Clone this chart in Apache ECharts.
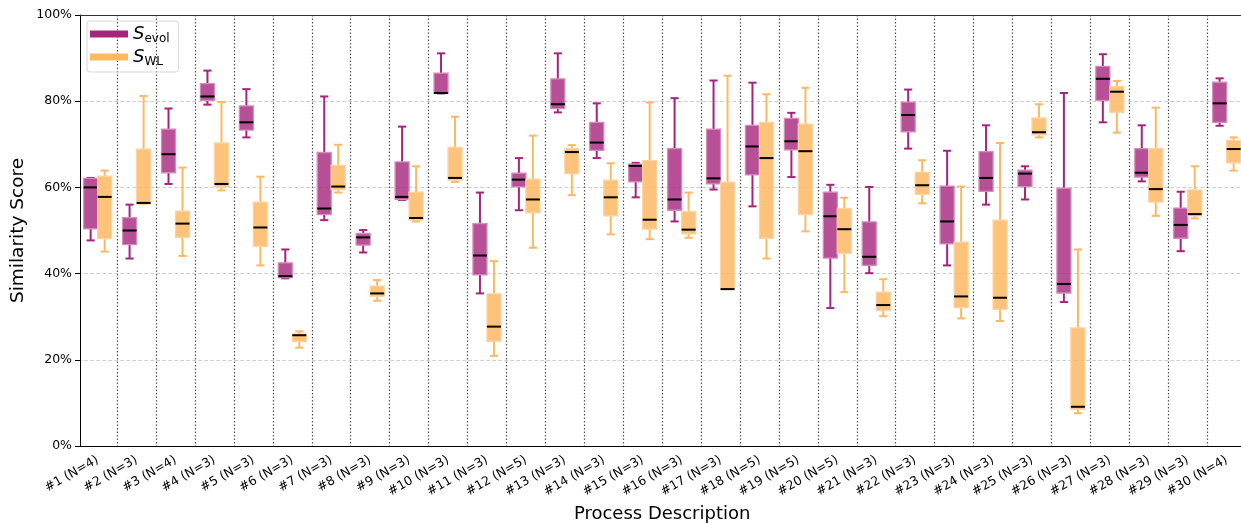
<!DOCTYPE html>
<html><head><meta charset="utf-8">
<script src="https://cdn.jsdelivr.net/npm/echarts@6/dist/echarts.min.js"></script>
<style>html,body{margin:0;padding:0;background:#fff}#c{width:1241px;height:523px}</style>
</head><body><div id="c"></div>
<script>
const categories = ['#1 (N=4)','#2 (N=3)','#3 (N=4)','#4 (N=3)','#5 (N=3)','#6 (N=3)','#7 (N=3)','#8 (N=3)','#9 (N=3)','#10 (N=3)',
  '#11 (N=3)','#12 (N=5)','#13 (N=3)','#14 (N=3)','#15 (N=3)','#16 (N=3)','#17 (N=3)','#18 (N=5)','#19 (N=5)','#20 (N=5)',
  '#21 (N=3)','#22 (N=3)','#23 (N=3)','#24 (N=3)','#25 (N=3)','#26 (N=3)','#27 (N=3)','#28 (N=3)','#29 (N=3)','#30 (N=4)'];
const yTicks = [0, 20, 40, 60, 80, 100];

// S_evol box statistics (%)
const evolLow    = [47.7,43.5,60.8,79.2,71.6,38.9,52.4,44.9,57.1,81.8,35.4,54.7,77.4,66.8,57.7,52.1,59.5,55.6,62.4,32.0,40.1,69.0,41.9,56.0,57.2,33.4,75.1,61.4,45.2,74.3];
const evolQ1     = [50.4,46.7,63.4,80.2,73.3,39.1,53.7,46.6,57.2,81.8,39.7,60.1,78.3,68.6,61.3,54.7,60.8,62.9,68.7,43.6,41.9,72.9,46.9,59.1,60.2,35.5,80.2,62.4,48.2,75.1];
const evolMedian = [60.0,50.0,67.7,81.1,75.1,39.4,55.1,48.4,57.8,81.9,44.2,61.8,79.3,70.4,65.0,57.2,62.1,69.5,70.7,53.3,43.9,76.8,52.1,62.2,63.2,37.6,85.2,63.4,51.3,79.5];
const evolQ3     = [62.1,53.0,73.5,84.1,78.9,42.5,68.1,49.3,65.9,86.5,51.6,63.3,85.2,75.1,65.4,69.0,73.5,74.4,76.0,58.9,52.0,79.8,60.3,68.3,64.0,59.8,88.1,69.0,55.2,84.4];
const evolHigh   = [62.2,56.0,78.3,87.1,82.8,45.6,81.1,50.1,74.1,91.1,58.8,66.8,91.1,79.5,65.7,80.7,84.8,84.3,77.3,60.6,60.1,82.7,68.5,74.4,64.9,81.9,90.9,74.4,59.0,85.3];

// S_WL box statistics (%)
const wlLow      = [45.1,56.2,44.1,59.3,41.9,22.8,58.8,33.7,52.1,61.3,20.9,46.0,58.2,49.1,48.0,48.3,36.4,43.5,49.8,35.7,30.1,56.3,29.6,29.0,71.6,7.6,72.7,53.4,52.8,63.9];
const wlQ1       = [48.1,56.2,48.4,60.2,46.3,24.2,59.5,34.7,52.4,61.7,24.3,54.1,63.2,53.4,50.3,49.2,36.4,48.2,53.7,44.7,31.4,58.4,32.1,31.7,72.2,8.5,77.4,56.6,53.4,65.7];
const wlMedian   = [57.8,56.4,51.6,60.8,50.7,25.7,60.2,35.4,52.9,62.2,27.7,57.2,68.2,57.7,52.5,50.2,36.4,66.8,68.4,50.3,32.7,60.5,34.7,34.4,72.8,9.1,82.2,59.6,53.8,68.9];
const wlQ3       = [62.6,68.9,54.5,70.3,56.6,26.0,65.1,37.1,58.9,69.3,35.3,61.9,69.0,61.7,66.2,54.4,61.2,75.1,74.7,55.1,35.7,63.5,47.3,52.4,76.1,27.4,83.4,69.0,59.4,70.9];
const wlHigh     = [63.9,81.2,64.6,79.8,62.5,26.6,69.9,38.5,64.9,76.4,42.9,72.0,69.8,65.6,79.7,58.8,85.9,81.6,83.1,57.6,38.7,66.3,60.2,70.3,79.3,45.6,84.7,78.5,64.9,71.6];

const FONT = 'DejaVu Sans';
const PURPLE = '#a6247e', PURPLE_FILL = 'rgba(166,36,126,0.8)', PURPLE_EDGE = '#d48cbb';
const ORANGE = '#fdb863', ORANGE_FILL = 'rgba(253,184,99,0.85)', ORANGE_EDGE = '#fdd3a2';

function build(low, q1, med, q3, high) {
  return categories.map((c, i) => [i, low[i], q1[i], med[i], q3[i], high[i]]);
}

function makeRender(offset, color, fill, edge) {
  return function (params, api) {
    const idx = api.value(0);
    const bw = api.size([1, 0])[0];
    const cx = api.coord([idx, 0])[0] + offset * bw;
    const yl = api.coord([idx, api.value(1)])[1];
    const y1 = api.coord([idx, api.value(2)])[1];
    const ym = api.coord([idx, api.value(3)])[1];
    const y3 = api.coord([idx, api.value(4)])[1];
    const yh = api.coord([idx, api.value(5)])[1];
    const half = bw * 0.18, cap = bw * 0.105;
    const ws = {stroke: color, lineWidth: 2};
    return {
      type: 'group',
      children: [
        {type: 'line', shape: {x1: cx, y1: yl, x2: cx, y2: y1}, style: ws},
        {type: 'line', shape: {x1: cx, y1: y3, x2: cx, y2: yh}, style: ws},
        {type: 'line', shape: {x1: cx - cap, y1: yl, x2: cx + cap, y2: yl}, style: ws},
        {type: 'line', shape: {x1: cx - cap, y1: yh, x2: cx + cap, y2: yh}, style: ws},
        {type: 'rect', shape: {x: cx - half, y: y3, width: 2 * half, height: Math.max(y1 - y3, 0.5)},
          style: {fill: fill, stroke: edge, lineWidth: 1.3}},
        {type: 'line', shape: {x1: cx - half, y1: ym, x2: cx + half, y2: ym}, style: {stroke: '#000', lineWidth: 2}}
      ]
    };
  };
}

const chart = echarts.init(document.getElementById('c'), null, {renderer: 'canvas'});
chart.setOption({
  animation: false,
  backgroundColor: '#fff',
  textStyle: {fontFamily: FONT},
  grid: {left: 78.2, top: 15, right: -5.1, bottom: 77, containLabel: false, outerBoundsMode: 'none'},
  legend: {
    left: 87, top: 21, orient: 'vertical',
    padding: [4, 9, 4, 3], itemGap: 3, itemWidth: 38, itemHeight: 7,
    borderColor: '#d8d8d8', borderWidth: 1, borderRadius: 3,
    data: [
      {name: 'Sevol', icon: 'rect', itemStyle: {color: PURPLE}},
      {name: 'SWL', icon: 'rect', itemStyle: {color: ORANGE}}
    ],
    formatter: n => n === 'Sevol' ? '{s|S}{sub|evol}' : '{s|S}{sub|WL}',
    textStyle: {
      rich: {
        s: {fontFamily: FONT, fontStyle: 'italic', fontSize: 18, lineHeight: 22, color: '#000'},
        sub: {fontFamily: FONT, fontSize: 12, lineHeight: 12, verticalAlign: 'bottom', color: '#000'}
      }
    }
  },
  xAxis: [{
    type: 'category', data: categories, boundaryGap: true,
    name: 'Process Description', nameLocation: 'middle', nameGap: 59,
    nameTextStyle: {fontFamily: FONT, fontSize: 18, color: '#000'},
    axisLine: {lineStyle: {color: '#000', width: 1}},
    axisTick: {alignWithLabel: true, length: 5, lineStyle: {color: '#000'}},
    axisLabel: {rotate: 30, interval: 0, fontFamily: FONT, fontSize: 12.5, color: '#000', margin: 13},
    splitLine: {show: true, interval: (i) => i !== 0, lineStyle: {color: '#555', type: [1.5, 2], width: 1.2}}
  }, {
    type: 'category', data: categories, position: 'top',
    axisLine: {show: true, lineStyle: {color: '#333', width: 1.2}},
    axisTick: {show: false}, axisLabel: {show: false}, splitLine: {show: false}
  }],
  yAxis: {
    type: 'value', min: 0, max: 100, interval: 20, offset: -1.8,
    name: 'Similarity Score', nameLocation: 'middle', nameGap: 52, nameMoveOverlap: false,
    nameTextStyle: {fontFamily: FONT, fontSize: 18.5, color: '#000'},
    axisLine: {show: true, lineStyle: {color: '#000', width: 1}},
    axisTick: {show: true, length: 5, lineStyle: {color: '#000'}},
    axisLabel: {formatter: '{value}%', fontFamily: FONT, fontSize: 12.5, color: '#000', margin: 8},
    splitLine: {show: true, lineStyle: {color: '#cfcfcf', type: [4, 2], width: 1}}
  },
  series: [
    {name: 'Sevol', type: 'custom', xAxisIndex: 0, color: PURPLE, renderItem: makeRender(-0.18, PURPLE, PURPLE_FILL, PURPLE_EDGE),
      encode: {x: 0, y: [1, 2, 3, 4, 5]}, data: build(evolLow, evolQ1, evolMedian, evolQ3, evolHigh)},
    {name: 'SWL', type: 'custom', xAxisIndex: 0, color: ORANGE, renderItem: makeRender(0.18, ORANGE, ORANGE_FILL, ORANGE_EDGE),
      encode: {x: 0, y: [1, 2, 3, 4, 5]}, data: build(wlLow, wlQ1, wlMedian, wlQ3, wlHigh)}
  ]
});
</script></body></html>
